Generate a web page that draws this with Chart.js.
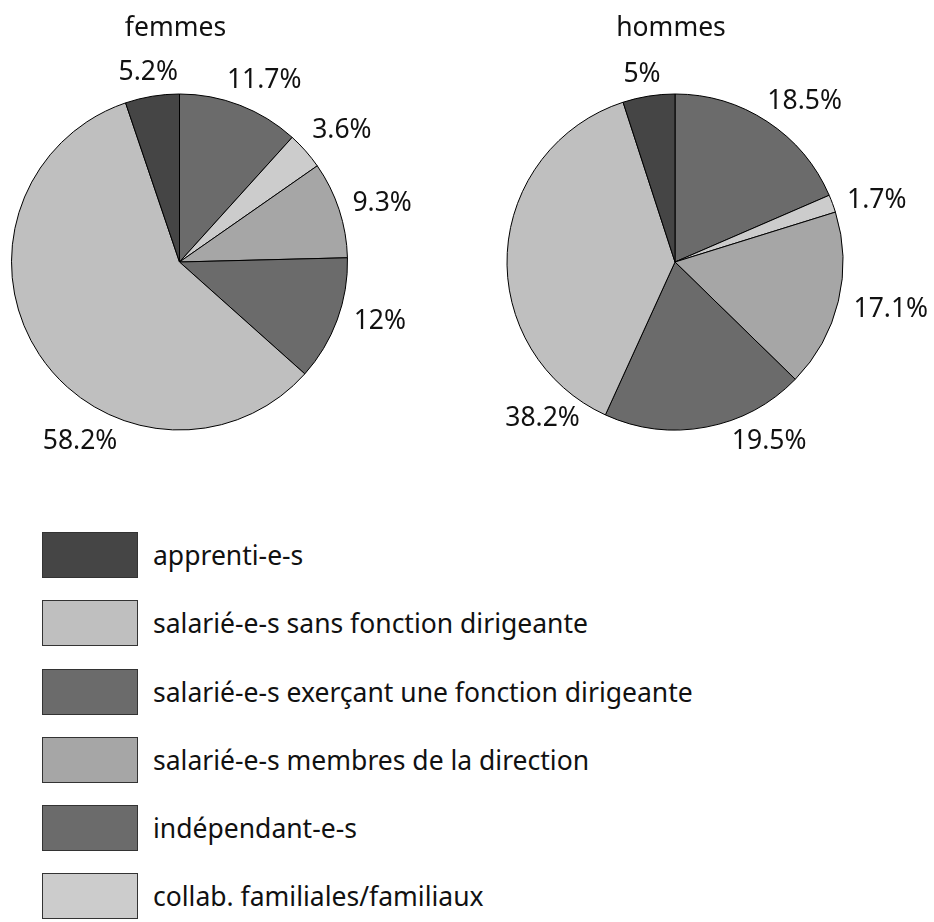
<!DOCTYPE html>
<html>
<head>
<meta charset="utf-8">
<script src="https://cdn.jsdelivr.net/npm/chart.js@4.4.1/dist/chart.umd.min.js"></script>
<style>
  html, body { margin: 0; padding: 0; background: #fff; }
  body { width: 934px; height: 922px; position: relative; overflow: hidden; font-family: "Noto Sans", sans-serif; }
  .pie { position: absolute; top: 0; }
  #legend { position: absolute; left: 42px; top: 532px; }
  .item { position: relative; height: 46px; margin-bottom: 22.3px; }
  .box { position: absolute; left: 0; top: 0; width: 94px; height: 44px; border: 1.3px solid #333; }
  .txt { position: absolute; left: 111px; top: 0; height: 46px; line-height: 46px; font-size: 26.5px; color: #111; white-space: nowrap; }
</style>
</head>
<body>
<div class="pie" style="left:0px"><canvas id="c1" width="467" height="524"></canvas></div>
<div class="pie" style="left:467px"><canvas id="c2" width="467" height="524"></canvas></div>
<div id="legend"></div>
<script>
// ---- data (legend order) ----
const categories = [
  "apprenti-e-s",
  "salarié-e-s sans fonction dirigeante",
  "salarié-e-s exerçant une fonction dirigeante",
  "salarié-e-s membres de la direction",
  "indépendant-e-s",
  "collab. familiales/familiaux"
];
const femmesValues = [5.2, 58.2, 12, 9.3, 11.7, 3.6];
const hommesValues = [5, 38.2, 19.5, 17.1, 18.5, 1.7];
const chartTitles = ["femmes", "hommes"];

// ---- styles ----
const colors = ["#454545", "#bfbfbf", "#6b6b6b", "#a6a6a6", "#6b6b6b", "#cccccc"];
// clockwise drawing order from 12 o'clock (indices into categories)
const drawOrder = [4, 5, 3, 2, 1, 0];
// label angle adjustment (deg, relative to slice middle) and distance beyond the rim, per category
const femmesLabelShift = [0, -27.5, -3.6, 2, 4, 2.4];
const femmesLabelGap = [24, 37, 41, 43, 32, 41];
const hommesLabelShift = [-1, -53, -17, -1.1, 5.7, 3.3];
const hommesLabelGap = [22, 37, 35, 53, 38, 43];
const FONT = '"Noto Sans", sans-serif';

const labelPlugin = {
  id: 'sliceLabels',
  afterDatasetsDraw(chart, args, opts) {
    const ctx = chart.ctx;
    const meta = chart.getDatasetMeta(0);
    const ds = chart.data.datasets[0];
    ctx.save();
    ctx.fillStyle = '#111';
    ctx.font = '26.5px ' + FONT;
    ctx.textAlign = 'center';
    ctx.textBaseline = 'middle';
    let cx = 0, cy = 0;
    meta.data.forEach((arc, i) => {
      const p = arc.getProps(['x', 'y', 'startAngle', 'endAngle', 'outerRadius'], true);
      cx = p.x; cy = p.y;
      const cat = ds.catIndex[i];
      const mid = (p.startAngle + p.endAngle) / 2 + opts.shift[cat] * Math.PI / 180;
      const d = p.outerRadius + opts.gap[cat];
      ctx.fillText(ds.data[i] + '%', p.x + Math.cos(mid) * d, p.y + Math.sin(mid) * d);
    });
    ctx.fillText(opts.title, cx - 4, cy - 234);
    ctx.restore();
  }
};

function makePie(id, values, title, shift, gap, padRight) {
  const data = drawOrder.map(i => values[i]);
  new Chart(document.getElementById(id), {
    type: 'pie',
    data: {
      labels: drawOrder.map(i => categories[i]),
      datasets: [{
        data: data,
        catIndex: drawOrder.slice(),
        backgroundColor: drawOrder.map(i => colors[i]),
        borderColor: '#000',
        borderWidth: 1,
        radius: 168
      }]
    },
    options: {
      responsive: false,
      animation: false,
      devicePixelRatio: 1,
      layout: { padding: { left: 0, right: padRight, top: 0, bottom: 0 } },
      plugins: {
        legend: { display: false },
        tooltip: { enabled: false },
        title: { display: false },
        sliceLabels: { title: title, shift: shift, gap: gap }
      }
    },
    plugins: [labelPlugin]
  });
}

makePie('c1', femmesValues, chartTitles[0], femmesLabelShift, femmesLabelGap, 108);
makePie('c2', hommesValues, chartTitles[1], hommesLabelShift, hommesLabelGap, 51);

// ---- legend ----
const leg = document.getElementById('legend');
categories.forEach((c, i) => {
  const it = document.createElement('div');
  it.className = 'item';
  const b = document.createElement('div');
  b.className = 'box';
  b.style.background = colors[i];
  const t = document.createElement('div');
  t.className = 'txt';
  t.textContent = c;
  it.appendChild(b); it.appendChild(t);
  leg.appendChild(it);
});
</script>
</body>
</html>
